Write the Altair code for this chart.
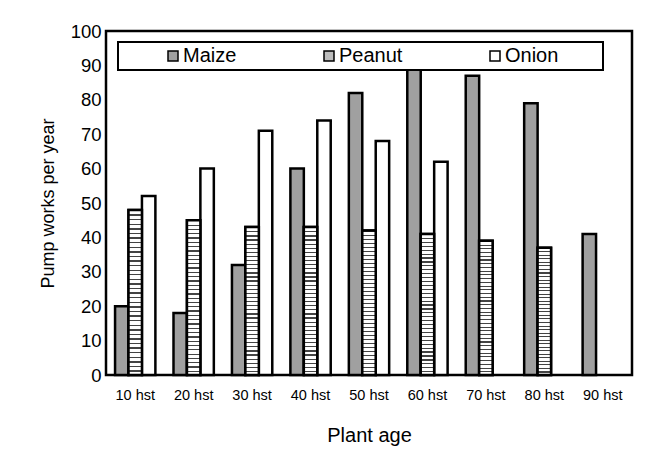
import altair as alt
import pandas as pd

ages = ["10 hst", "20 hst", "30 hst", "40 hst", "50 hst", "60 hst", "70 hst", "80 hst", "90 hst"]
crops = ["Maize", "Peanut", "Onion"]
maize = [20, 18, 32, 60, 82, 90, 87, 79, 41]
peanut = [48, 45, 43, 43, 42, 41, 39, 37, None]
onion = [52, 60, 71, 74, 68, 62, None, None, None]
y_ticks = [0, 10, 20, 30, 40, 50, 60, 70, 80, 90, 100]

rows = []
for crop, vals in zip(crops, [maize, peanut, onion]):
    for a, v in zip(ages, vals):
        if v is not None:
            rows.append({"age": a, "crop": crop, "value": v})
df = pd.DataFrame(rows)

font = "Liberation Sans"

# horizontal stripe fill for the Peanut bars (style only)
n = 36
stops = []
for k in range(n):
    a = k / n
    b = (k + 0.3) / n
    c = (k + 1) / n
    stops += [
        alt.GradientStop(offset=a, color="#444444"),
        alt.GradientStop(offset=b, color="#444444"),
        alt.GradientStop(offset=b, color="#ffffff"),
        alt.GradientStop(offset=c, color="#ffffff"),
    ]
stripe = alt.LinearGradient(gradient="linear", stops=stops, x1=0, x2=0, y1=0, y2=1)

x = alt.X(
    "age:N",
    sort=ages,
    scale=alt.Scale(domain=ages, paddingInner=0.31, paddingOuter=0.155),
    axis=alt.Axis(
        title="Plant age", labelAngle=0, ticks=False, domain=False,
        labelFontSize=14.5, labelPadding=13, titleFontSize=20, titlePadding=24,
        labelFont=font, titleFont=font, titleFontWeight="normal",
        labelColor="black", titleColor="black",
    ),
)
xo = alt.XOffset("crop:N", sort=crops, scale=alt.Scale(domain=crops, paddingInner=0, paddingOuter=0))
y = alt.Y(
    "value:Q",
    scale=alt.Scale(domain=[0, 100], nice=False),
    axis=alt.Axis(
        title="Pump works per year", values=y_ticks, ticks=False, domain=False, grid=False,
        labelFontSize=18.5, labelPadding=5, titleFontSize=18, titlePadding=13,
        labelFont=font, titleFont=font, titleFontWeight="normal",
        labelColor="black", titleColor="black",
    ),
)
color = alt.Color(
    "crop:N",
    sort=crops,
    scale=alt.Scale(domain=crops, range=["#a0a0a0", "#bdbdbd", "#ffffff"]),
    legend=alt.Legend(
        title=" ", titleOrient="right", titlePadding=41, titleFontSize=10,
        orient="none", legendX=12, legendY=11, direction="horizontal",
        symbolType="square", symbolSize=100, symbolStrokeColor="black", symbolStrokeWidth=1.5,
        symbolOffset=41, labelOffset=0, labelFontSize=20, labelFont=font, labelColor="black",
        columnPadding=41, padding=4, strokeColor="black", fillColor="white", zindex=1,
    ),
)

bars = alt.Chart(df).mark_bar(stroke="black", strokeWidth=2.5).encode(x=x, xOffset=xo, y=y, color=color)
stripes = (
    alt.Chart(df)
    .transform_filter("datum.crop == 'Peanut'")
    .mark_bar(fill=stripe, stroke="black", strokeWidth=2.5)
    .encode(x=x, xOffset=xo, y=y)
)

chart = (
    alt.layer(bars, stripes)
    .properties(
        width=526, height=344,
        autosize=alt.AutoSizeParams(type="none"),
        padding={"left": 98, "top": 23, "right": 6, "bottom": 88},
        background="white",
    )
    .configure_view(stroke="black", strokeWidth=2.5)
    .configure_legend(strokeWidth=2)
)

chart.save("out.html", embed_options={"renderer": "svg", "actions": False})
